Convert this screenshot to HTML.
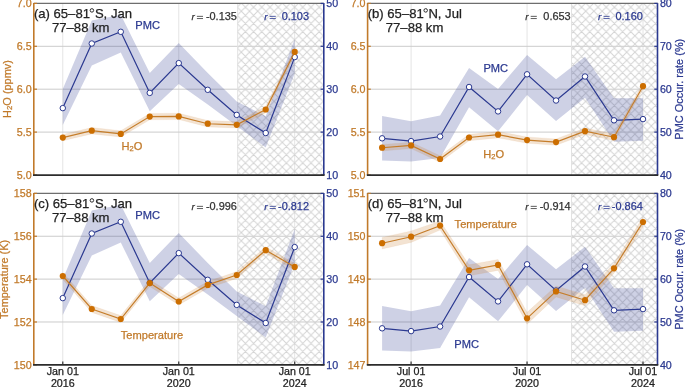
<!DOCTYPE html>
<html><head><meta charset="utf-8"><style>
html,body{margin:0;padding:0;background:#fff;width:685px;height:387px;overflow:hidden}
svg{display:block;will-change:transform}
</style></head><body>
<svg width="685" height="387" viewBox="0 0 685 387">
<defs>
<pattern id="hatch" patternUnits="userSpaceOnUse" x="3.5" y="3.0" width="8.2" height="8.2"><path d="M-8.2,8.2 L8.2,-8.2 M0,16.4 L16.4,0 M-8.2,0 L8.2,16.4 M0,-8.2 L16.4,8.2 M-4.1,-4.1 L12.299999999999999,12.299999999999999 M-4.1,12.299999999999999 L12.299999999999999,-4.1" stroke="#d3d3d3" stroke-width="0.95" fill="none"/></pattern>
</defs>
<rect width="685" height="387" fill="#fff"/>
<clipPath id="clipa"><rect x="33.8" y="3.4" width="290.0" height="171.6"/></clipPath>
<line x1="62.79" y1="3.4" x2="62.79" y2="175.0" stroke="#e4e4e4" stroke-width="1"/>
<line x1="178.75" y1="3.4" x2="178.75" y2="175.0" stroke="#e4e4e4" stroke-width="1"/>
<line x1="294.71" y1="3.4" x2="294.71" y2="175.0" stroke="#e4e4e4" stroke-width="1"/>
<line x1="33.8" y1="46.30" x2="323.8" y2="46.30" stroke="#cbcbcb" stroke-width="1"/>
<line x1="33.8" y1="89.20" x2="323.8" y2="89.20" stroke="#cbcbcb" stroke-width="1"/>
<line x1="33.8" y1="132.10" x2="323.8" y2="132.10" stroke="#cbcbcb" stroke-width="1"/>
<rect x="237.20" y="3.4" width="86.60" height="171.6" fill="url(#hatch)"/>
<line x1="237.70" y1="3.4" x2="237.70" y2="175.0" stroke="#e2e2e2" stroke-width="1"/>
<g clip-path="url(#clipa)">
<polygon points="62.79,89.10 91.78,20.60 120.77,14.80 149.76,73.00 178.75,42.90 207.74,73.00 236.73,101.50 265.72,116.20 294.71,39.00 294.71,73.40 265.72,147.60 236.73,126.00 207.74,104.50 178.75,84.00 149.76,111.20 120.77,52.50 91.78,65.40 62.79,124.90" fill="#2b3990" fill-opacity="0.23"/>
<polygon points="62.79,134.40 91.78,127.50 120.77,130.70 149.76,113.40 178.75,113.20 207.74,120.50 236.73,121.60 265.72,106.30 294.71,48.70 294.71,55.10 265.72,112.70 236.73,128.00 207.74,126.90 178.75,119.60 149.76,119.80 120.77,137.10 91.78,133.90 62.79,140.80" fill="#c57d2a" fill-opacity="0.21" stroke="#c57d2a" stroke-opacity="0.08" stroke-width="0.8"/>
<polyline points="62.79,108.10 91.78,43.50 120.77,31.80 149.76,92.90 178.75,63.10 207.74,89.80 236.73,114.90 265.72,133.00 294.71,57.10" fill="none" stroke="#2b3990" stroke-width="1.2"/>
<circle cx="62.79" cy="108.10" r="2.75" fill="#fff" stroke="#2b3990" stroke-width="1"/>
<circle cx="91.78" cy="43.50" r="2.75" fill="#fff" stroke="#2b3990" stroke-width="1"/>
<circle cx="120.77" cy="31.80" r="2.75" fill="#fff" stroke="#2b3990" stroke-width="1"/>
<circle cx="149.76" cy="92.90" r="2.75" fill="#fff" stroke="#2b3990" stroke-width="1"/>
<circle cx="178.75" cy="63.10" r="2.75" fill="#fff" stroke="#2b3990" stroke-width="1"/>
<circle cx="207.74" cy="89.80" r="2.75" fill="#fff" stroke="#2b3990" stroke-width="1"/>
<circle cx="236.73" cy="114.90" r="2.75" fill="#fff" stroke="#2b3990" stroke-width="1"/>
<circle cx="265.72" cy="133.00" r="2.75" fill="#fff" stroke="#2b3990" stroke-width="1"/>
<circle cx="294.71" cy="57.10" r="2.75" fill="#fff" stroke="#2b3990" stroke-width="1"/>
<polyline points="62.79,137.60 91.78,130.70 120.77,133.90 149.76,116.60 178.75,116.40 207.74,123.70 236.73,124.80 265.72,109.50 294.71,51.90" fill="none" stroke="#c57d2a" stroke-width="1.15"/>
<circle cx="62.79" cy="137.60" r="3.1" fill="#cc6e00"/>
<circle cx="91.78" cy="130.70" r="3.1" fill="#cc6e00"/>
<circle cx="120.77" cy="133.90" r="3.1" fill="#cc6e00"/>
<circle cx="149.76" cy="116.60" r="3.1" fill="#cc6e00"/>
<circle cx="178.75" cy="116.40" r="3.1" fill="#cc6e00"/>
<circle cx="207.74" cy="123.70" r="3.1" fill="#cc6e00"/>
<circle cx="236.73" cy="124.80" r="3.1" fill="#cc6e00"/>
<circle cx="265.72" cy="109.50" r="3.1" fill="#cc6e00"/>
<circle cx="294.71" cy="51.90" r="3.1" fill="#cc6e00"/>
</g>
<line x1="33.8" y1="2.9" x2="33.8" y2="175.0" stroke="#c17a2a" stroke-width="1.6"/>
<line x1="323.8" y1="2.9" x2="323.8" y2="175.0" stroke="#2b3990" stroke-width="1.6"/>
<line x1="33.8" y1="3.4" x2="323.8" y2="3.4" stroke="#6e6e6e" stroke-width="1.1"/>
<line x1="33.8" y1="3.40" x2="37.0" y2="3.40" stroke="#c17a2a" stroke-width="1.2"/>
<line x1="323.8" y1="3.40" x2="320.6" y2="3.40" stroke="#2b3990" stroke-width="1.2"/>
<line x1="33.8" y1="46.30" x2="37.0" y2="46.30" stroke="#c17a2a" stroke-width="1.2"/>
<line x1="323.8" y1="46.30" x2="320.6" y2="46.30" stroke="#2b3990" stroke-width="1.2"/>
<line x1="33.8" y1="89.20" x2="37.0" y2="89.20" stroke="#c17a2a" stroke-width="1.2"/>
<line x1="323.8" y1="89.20" x2="320.6" y2="89.20" stroke="#2b3990" stroke-width="1.2"/>
<line x1="33.8" y1="132.10" x2="37.0" y2="132.10" stroke="#c17a2a" stroke-width="1.2"/>
<line x1="323.8" y1="132.10" x2="320.6" y2="132.10" stroke="#2b3990" stroke-width="1.2"/>
<line x1="33.8" y1="175.00" x2="37.0" y2="175.00" stroke="#c17a2a" stroke-width="1.2"/>
<line x1="323.8" y1="175.00" x2="320.6" y2="175.00" stroke="#2b3990" stroke-width="1.2"/>
<line x1="33.0" y1="175.0" x2="324.6" y2="175.0" stroke="#2c2c2c" stroke-width="1.75"/>
<clipPath id="clipb"><rect x="367.6" y="3.4" width="289.9" height="171.6"/></clipPath>
<line x1="411.09" y1="3.4" x2="411.09" y2="175.0" stroke="#e4e4e4" stroke-width="1"/>
<line x1="527.05" y1="3.4" x2="527.05" y2="175.0" stroke="#e4e4e4" stroke-width="1"/>
<line x1="643.00" y1="3.4" x2="643.00" y2="175.0" stroke="#e4e4e4" stroke-width="1"/>
<line x1="367.6" y1="46.30" x2="657.5" y2="46.30" stroke="#cbcbcb" stroke-width="1"/>
<line x1="367.6" y1="89.20" x2="657.5" y2="89.20" stroke="#cbcbcb" stroke-width="1"/>
<line x1="367.6" y1="132.10" x2="657.5" y2="132.10" stroke="#cbcbcb" stroke-width="1"/>
<rect x="571.00" y="3.4" width="86.50" height="171.6" fill="url(#hatch)"/>
<line x1="571.50" y1="3.4" x2="571.50" y2="175.0" stroke="#e2e2e2" stroke-width="1"/>
<g clip-path="url(#clipb)">
<polygon points="382.10,115.90 411.09,121.30 440.08,115.40 469.06,68.00 498.06,89.00 527.05,55.00 556.04,79.20 585.02,56.80 614.01,98.30 643.00,98.30 643.00,140.80 614.01,141.80 585.02,97.70 556.04,120.90 527.05,95.10 498.06,131.30 469.06,107.20 440.08,158.00 411.09,161.60 382.10,160.60" fill="#2b3990" fill-opacity="0.23"/>
<polygon points="382.10,144.50 411.09,142.20 440.08,155.80 469.06,134.30 498.06,131.50 527.05,136.90 556.04,138.90 585.02,128.00 614.01,134.00 643.00,83.00 643.00,89.40 614.01,140.40 585.02,134.40 556.04,145.30 527.05,143.30 498.06,137.90 469.06,140.70 440.08,162.20 411.09,148.60 382.10,150.90" fill="#c57d2a" fill-opacity="0.21" stroke="#c57d2a" stroke-opacity="0.08" stroke-width="0.8"/>
<polyline points="382.10,138.30 411.09,141.10 440.08,136.50 469.06,87.00 498.06,111.40 527.05,74.30 556.04,100.50 585.02,76.50 614.01,120.30 643.00,119.10" fill="none" stroke="#2b3990" stroke-width="1.2"/>
<circle cx="382.10" cy="138.30" r="2.75" fill="#fff" stroke="#2b3990" stroke-width="1"/>
<circle cx="411.09" cy="141.10" r="2.75" fill="#fff" stroke="#2b3990" stroke-width="1"/>
<circle cx="440.08" cy="136.50" r="2.75" fill="#fff" stroke="#2b3990" stroke-width="1"/>
<circle cx="469.06" cy="87.00" r="2.75" fill="#fff" stroke="#2b3990" stroke-width="1"/>
<circle cx="498.06" cy="111.40" r="2.75" fill="#fff" stroke="#2b3990" stroke-width="1"/>
<circle cx="527.05" cy="74.30" r="2.75" fill="#fff" stroke="#2b3990" stroke-width="1"/>
<circle cx="556.04" cy="100.50" r="2.75" fill="#fff" stroke="#2b3990" stroke-width="1"/>
<circle cx="585.02" cy="76.50" r="2.75" fill="#fff" stroke="#2b3990" stroke-width="1"/>
<circle cx="614.01" cy="120.30" r="2.75" fill="#fff" stroke="#2b3990" stroke-width="1"/>
<circle cx="643.00" cy="119.10" r="2.75" fill="#fff" stroke="#2b3990" stroke-width="1"/>
<polyline points="382.10,147.70 411.09,145.40 440.08,159.00 469.06,137.50 498.06,134.70 527.05,140.10 556.04,142.10 585.02,131.20 614.01,137.20 643.00,86.20" fill="none" stroke="#c57d2a" stroke-width="1.15"/>
<circle cx="382.10" cy="147.70" r="3.1" fill="#cc6e00"/>
<circle cx="411.09" cy="145.40" r="3.1" fill="#cc6e00"/>
<circle cx="440.08" cy="159.00" r="3.1" fill="#cc6e00"/>
<circle cx="469.06" cy="137.50" r="3.1" fill="#cc6e00"/>
<circle cx="498.06" cy="134.70" r="3.1" fill="#cc6e00"/>
<circle cx="527.05" cy="140.10" r="3.1" fill="#cc6e00"/>
<circle cx="556.04" cy="142.10" r="3.1" fill="#cc6e00"/>
<circle cx="585.02" cy="131.20" r="3.1" fill="#cc6e00"/>
<circle cx="614.01" cy="137.20" r="3.1" fill="#cc6e00"/>
<circle cx="643.00" cy="86.20" r="3.1" fill="#cc6e00"/>
</g>
<line x1="367.6" y1="2.9" x2="367.6" y2="175.0" stroke="#c17a2a" stroke-width="1.6"/>
<line x1="657.5" y1="2.9" x2="657.5" y2="175.0" stroke="#2b3990" stroke-width="1.6"/>
<line x1="367.6" y1="3.4" x2="657.5" y2="3.4" stroke="#6e6e6e" stroke-width="1.1"/>
<line x1="367.6" y1="3.40" x2="370.8" y2="3.40" stroke="#c17a2a" stroke-width="1.2"/>
<line x1="657.5" y1="3.40" x2="654.3" y2="3.40" stroke="#2b3990" stroke-width="1.2"/>
<line x1="367.6" y1="46.30" x2="370.8" y2="46.30" stroke="#c17a2a" stroke-width="1.2"/>
<line x1="657.5" y1="46.30" x2="654.3" y2="46.30" stroke="#2b3990" stroke-width="1.2"/>
<line x1="367.6" y1="89.20" x2="370.8" y2="89.20" stroke="#c17a2a" stroke-width="1.2"/>
<line x1="657.5" y1="89.20" x2="654.3" y2="89.20" stroke="#2b3990" stroke-width="1.2"/>
<line x1="367.6" y1="132.10" x2="370.8" y2="132.10" stroke="#c17a2a" stroke-width="1.2"/>
<line x1="657.5" y1="132.10" x2="654.3" y2="132.10" stroke="#2b3990" stroke-width="1.2"/>
<line x1="367.6" y1="175.00" x2="370.8" y2="175.00" stroke="#c17a2a" stroke-width="1.2"/>
<line x1="657.5" y1="175.00" x2="654.3" y2="175.00" stroke="#2b3990" stroke-width="1.2"/>
<line x1="366.8" y1="175.0" x2="658.3" y2="175.0" stroke="#2c2c2c" stroke-width="1.75"/>
<clipPath id="clipc"><rect x="33.8" y="193.4" width="290.0" height="171.45000000000002"/></clipPath>
<line x1="62.79" y1="193.4" x2="62.79" y2="364.85" stroke="#e4e4e4" stroke-width="1"/>
<line x1="178.75" y1="193.4" x2="178.75" y2="364.85" stroke="#e4e4e4" stroke-width="1"/>
<line x1="294.71" y1="193.4" x2="294.71" y2="364.85" stroke="#e4e4e4" stroke-width="1"/>
<line x1="33.8" y1="236.26" x2="323.8" y2="236.26" stroke="#cbcbcb" stroke-width="1"/>
<line x1="33.8" y1="279.12" x2="323.8" y2="279.12" stroke="#cbcbcb" stroke-width="1"/>
<line x1="33.8" y1="321.99" x2="323.8" y2="321.99" stroke="#cbcbcb" stroke-width="1"/>
<rect x="237.20" y="193.4" width="86.60" height="171.45000000000002" fill="url(#hatch)"/>
<line x1="237.70" y1="193.4" x2="237.70" y2="364.85" stroke="#e2e2e2" stroke-width="1"/>
<g clip-path="url(#clipc)">
<polygon points="62.79,279.10 91.78,210.60 120.77,204.80 149.76,263.00 178.75,232.90 207.74,263.00 236.73,291.50 265.72,306.20 294.71,229.00 294.71,263.40 265.72,337.60 236.73,316.00 207.74,294.50 178.75,274.00 149.76,301.20 120.77,242.50 91.78,255.40 62.79,314.90" fill="#2b3990" fill-opacity="0.23"/>
<polygon points="62.79,272.60 91.78,305.60 120.77,315.60 149.76,279.70 178.75,298.10 207.74,281.50 236.73,271.60 265.72,246.80 294.71,263.50 294.71,270.30 265.72,253.60 236.73,278.40 207.74,288.30 178.75,304.90 149.76,286.50 120.77,322.40 91.78,312.40 62.79,279.40" fill="#c57d2a" fill-opacity="0.21" stroke="#c57d2a" stroke-opacity="0.08" stroke-width="0.8"/>
<polyline points="62.79,298.10 91.78,233.50 120.77,221.80 149.76,282.90 178.75,253.10 207.74,279.80 236.73,304.90 265.72,323.00 294.71,247.10" fill="none" stroke="#2b3990" stroke-width="1.2"/>
<circle cx="62.79" cy="298.10" r="2.75" fill="#fff" stroke="#2b3990" stroke-width="1"/>
<circle cx="91.78" cy="233.50" r="2.75" fill="#fff" stroke="#2b3990" stroke-width="1"/>
<circle cx="120.77" cy="221.80" r="2.75" fill="#fff" stroke="#2b3990" stroke-width="1"/>
<circle cx="149.76" cy="282.90" r="2.75" fill="#fff" stroke="#2b3990" stroke-width="1"/>
<circle cx="178.75" cy="253.10" r="2.75" fill="#fff" stroke="#2b3990" stroke-width="1"/>
<circle cx="207.74" cy="279.80" r="2.75" fill="#fff" stroke="#2b3990" stroke-width="1"/>
<circle cx="236.73" cy="304.90" r="2.75" fill="#fff" stroke="#2b3990" stroke-width="1"/>
<circle cx="265.72" cy="323.00" r="2.75" fill="#fff" stroke="#2b3990" stroke-width="1"/>
<circle cx="294.71" cy="247.10" r="2.75" fill="#fff" stroke="#2b3990" stroke-width="1"/>
<polyline points="62.79,276.00 91.78,309.00 120.77,319.00 149.76,283.10 178.75,301.50 207.74,284.90 236.73,275.00 265.72,250.20 294.71,266.90" fill="none" stroke="#c57d2a" stroke-width="1.15"/>
<circle cx="62.79" cy="276.00" r="3.1" fill="#cc6e00"/>
<circle cx="91.78" cy="309.00" r="3.1" fill="#cc6e00"/>
<circle cx="120.77" cy="319.00" r="3.1" fill="#cc6e00"/>
<circle cx="149.76" cy="283.10" r="3.1" fill="#cc6e00"/>
<circle cx="178.75" cy="301.50" r="3.1" fill="#cc6e00"/>
<circle cx="207.74" cy="284.90" r="3.1" fill="#cc6e00"/>
<circle cx="236.73" cy="275.00" r="3.1" fill="#cc6e00"/>
<circle cx="265.72" cy="250.20" r="3.1" fill="#cc6e00"/>
<circle cx="294.71" cy="266.90" r="3.1" fill="#cc6e00"/>
</g>
<line x1="33.8" y1="192.9" x2="33.8" y2="364.85" stroke="#c17a2a" stroke-width="1.6"/>
<line x1="323.8" y1="192.9" x2="323.8" y2="364.85" stroke="#2b3990" stroke-width="1.6"/>
<line x1="33.8" y1="193.4" x2="323.8" y2="193.4" stroke="#6e6e6e" stroke-width="1.1"/>
<line x1="33.8" y1="193.40" x2="37.0" y2="193.40" stroke="#c17a2a" stroke-width="1.2"/>
<line x1="323.8" y1="193.40" x2="320.6" y2="193.40" stroke="#2b3990" stroke-width="1.2"/>
<line x1="33.8" y1="236.26" x2="37.0" y2="236.26" stroke="#c17a2a" stroke-width="1.2"/>
<line x1="323.8" y1="236.26" x2="320.6" y2="236.26" stroke="#2b3990" stroke-width="1.2"/>
<line x1="33.8" y1="279.12" x2="37.0" y2="279.12" stroke="#c17a2a" stroke-width="1.2"/>
<line x1="323.8" y1="279.12" x2="320.6" y2="279.12" stroke="#2b3990" stroke-width="1.2"/>
<line x1="33.8" y1="321.99" x2="37.0" y2="321.99" stroke="#c17a2a" stroke-width="1.2"/>
<line x1="323.8" y1="321.99" x2="320.6" y2="321.99" stroke="#2b3990" stroke-width="1.2"/>
<line x1="33.8" y1="364.85" x2="37.0" y2="364.85" stroke="#c17a2a" stroke-width="1.2"/>
<line x1="323.8" y1="364.85" x2="320.6" y2="364.85" stroke="#2b3990" stroke-width="1.2"/>
<line x1="33.0" y1="364.85" x2="324.6" y2="364.85" stroke="#2c2c2c" stroke-width="1.75"/>
<line x1="62.79" y1="364.85" x2="62.79" y2="361.45000000000005" stroke="#333" stroke-width="1.2"/>
<line x1="178.75" y1="364.85" x2="178.75" y2="361.45000000000005" stroke="#333" stroke-width="1.2"/>
<line x1="294.71" y1="364.85" x2="294.71" y2="361.45000000000005" stroke="#333" stroke-width="1.2"/>
<clipPath id="clipd"><rect x="367.6" y="193.4" width="289.9" height="171.45000000000002"/></clipPath>
<line x1="411.09" y1="193.4" x2="411.09" y2="364.85" stroke="#e4e4e4" stroke-width="1"/>
<line x1="527.05" y1="193.4" x2="527.05" y2="364.85" stroke="#e4e4e4" stroke-width="1"/>
<line x1="643.00" y1="193.4" x2="643.00" y2="364.85" stroke="#e4e4e4" stroke-width="1"/>
<line x1="367.6" y1="236.26" x2="657.5" y2="236.26" stroke="#cbcbcb" stroke-width="1"/>
<line x1="367.6" y1="279.12" x2="657.5" y2="279.12" stroke="#cbcbcb" stroke-width="1"/>
<line x1="367.6" y1="321.99" x2="657.5" y2="321.99" stroke="#cbcbcb" stroke-width="1"/>
<rect x="571.00" y="193.4" width="86.50" height="171.45000000000002" fill="url(#hatch)"/>
<line x1="571.50" y1="193.4" x2="571.50" y2="364.85" stroke="#e2e2e2" stroke-width="1"/>
<g clip-path="url(#clipd)">
<polygon points="382.10,305.90 411.09,311.30 440.08,305.40 469.06,258.00 498.06,279.00 527.05,245.00 556.04,269.20 585.02,246.80 614.01,288.30 643.00,288.30 643.00,330.80 614.01,331.80 585.02,287.70 556.04,310.90 527.05,285.10 498.06,321.30 469.06,297.20 440.08,348.00 411.09,351.60 382.10,350.60" fill="#2b3990" fill-opacity="0.23"/>
<polygon points="382.10,237.40 411.09,230.90 440.08,221.10 469.06,264.80 498.06,259.40 527.05,312.30 556.04,285.90 585.02,294.70 614.01,263.30 643.00,217.00 643.00,227.00 614.01,273.30 585.02,305.70 556.04,296.90 527.05,324.30 498.06,270.40 469.06,275.80 440.08,230.10 411.09,242.50 382.10,249.00" fill="#c57d2a" fill-opacity="0.21" stroke="#c57d2a" stroke-opacity="0.08" stroke-width="0.8"/>
<polyline points="382.10,328.30 411.09,331.10 440.08,326.50 469.06,277.00 498.06,301.40 527.05,264.30 556.04,290.50 585.02,266.50 614.01,310.30 643.00,309.10" fill="none" stroke="#2b3990" stroke-width="1.2"/>
<circle cx="382.10" cy="328.30" r="2.75" fill="#fff" stroke="#2b3990" stroke-width="1"/>
<circle cx="411.09" cy="331.10" r="2.75" fill="#fff" stroke="#2b3990" stroke-width="1"/>
<circle cx="440.08" cy="326.50" r="2.75" fill="#fff" stroke="#2b3990" stroke-width="1"/>
<circle cx="469.06" cy="277.00" r="2.75" fill="#fff" stroke="#2b3990" stroke-width="1"/>
<circle cx="498.06" cy="301.40" r="2.75" fill="#fff" stroke="#2b3990" stroke-width="1"/>
<circle cx="527.05" cy="264.30" r="2.75" fill="#fff" stroke="#2b3990" stroke-width="1"/>
<circle cx="556.04" cy="290.50" r="2.75" fill="#fff" stroke="#2b3990" stroke-width="1"/>
<circle cx="585.02" cy="266.50" r="2.75" fill="#fff" stroke="#2b3990" stroke-width="1"/>
<circle cx="614.01" cy="310.30" r="2.75" fill="#fff" stroke="#2b3990" stroke-width="1"/>
<circle cx="643.00" cy="309.10" r="2.75" fill="#fff" stroke="#2b3990" stroke-width="1"/>
<polyline points="382.10,243.20 411.09,236.70 440.08,225.60 469.06,270.30 498.06,264.90 527.05,318.30 556.04,291.40 585.02,300.20 614.01,268.30 643.00,222.00" fill="none" stroke="#c57d2a" stroke-width="1.15"/>
<circle cx="382.10" cy="243.20" r="3.1" fill="#cc6e00"/>
<circle cx="411.09" cy="236.70" r="3.1" fill="#cc6e00"/>
<circle cx="440.08" cy="225.60" r="3.1" fill="#cc6e00"/>
<circle cx="469.06" cy="270.30" r="3.1" fill="#cc6e00"/>
<circle cx="498.06" cy="264.90" r="3.1" fill="#cc6e00"/>
<circle cx="527.05" cy="318.30" r="3.1" fill="#cc6e00"/>
<circle cx="556.04" cy="291.40" r="3.1" fill="#cc6e00"/>
<circle cx="585.02" cy="300.20" r="3.1" fill="#cc6e00"/>
<circle cx="614.01" cy="268.30" r="3.1" fill="#cc6e00"/>
<circle cx="643.00" cy="222.00" r="3.1" fill="#cc6e00"/>
</g>
<line x1="367.6" y1="192.9" x2="367.6" y2="364.85" stroke="#c17a2a" stroke-width="1.6"/>
<line x1="657.5" y1="192.9" x2="657.5" y2="364.85" stroke="#2b3990" stroke-width="1.6"/>
<line x1="367.6" y1="193.4" x2="657.5" y2="193.4" stroke="#6e6e6e" stroke-width="1.1"/>
<line x1="367.6" y1="193.40" x2="370.8" y2="193.40" stroke="#c17a2a" stroke-width="1.2"/>
<line x1="657.5" y1="193.40" x2="654.3" y2="193.40" stroke="#2b3990" stroke-width="1.2"/>
<line x1="367.6" y1="236.26" x2="370.8" y2="236.26" stroke="#c17a2a" stroke-width="1.2"/>
<line x1="657.5" y1="236.26" x2="654.3" y2="236.26" stroke="#2b3990" stroke-width="1.2"/>
<line x1="367.6" y1="279.12" x2="370.8" y2="279.12" stroke="#c17a2a" stroke-width="1.2"/>
<line x1="657.5" y1="279.12" x2="654.3" y2="279.12" stroke="#2b3990" stroke-width="1.2"/>
<line x1="367.6" y1="321.99" x2="370.8" y2="321.99" stroke="#c17a2a" stroke-width="1.2"/>
<line x1="657.5" y1="321.99" x2="654.3" y2="321.99" stroke="#2b3990" stroke-width="1.2"/>
<line x1="367.6" y1="364.85" x2="370.8" y2="364.85" stroke="#c17a2a" stroke-width="1.2"/>
<line x1="657.5" y1="364.85" x2="654.3" y2="364.85" stroke="#2b3990" stroke-width="1.2"/>
<line x1="366.8" y1="364.85" x2="658.3" y2="364.85" stroke="#2c2c2c" stroke-width="1.75"/>
<line x1="411.09" y1="364.85" x2="411.09" y2="361.45000000000005" stroke="#333" stroke-width="1.2"/>
<line x1="527.05" y1="364.85" x2="527.05" y2="361.45000000000005" stroke="#333" stroke-width="1.2"/>
<line x1="643.00" y1="364.85" x2="643.00" y2="361.45000000000005" stroke="#333" stroke-width="1.2"/>
<text x="31.70" y="7.40" font-family="Liberation Sans, sans-serif" font-size="10.7" fill="#c17a2a" stroke="#c17a2a" stroke-width="0.25" text-anchor="end" >7.0</text>
<text x="326.20" y="7.40" font-family="Liberation Sans, sans-serif" font-size="10.7" fill="#2b3990" stroke="#2b3990" stroke-width="0.25" text-anchor="start" >50</text>
<text x="31.70" y="50.30" font-family="Liberation Sans, sans-serif" font-size="10.7" fill="#c17a2a" stroke="#c17a2a" stroke-width="0.25" text-anchor="end" >6.5</text>
<text x="326.20" y="50.30" font-family="Liberation Sans, sans-serif" font-size="10.7" fill="#2b3990" stroke="#2b3990" stroke-width="0.25" text-anchor="start" >40</text>
<text x="31.70" y="93.20" font-family="Liberation Sans, sans-serif" font-size="10.7" fill="#c17a2a" stroke="#c17a2a" stroke-width="0.25" text-anchor="end" >6.0</text>
<text x="326.20" y="93.20" font-family="Liberation Sans, sans-serif" font-size="10.7" fill="#2b3990" stroke="#2b3990" stroke-width="0.25" text-anchor="start" >30</text>
<text x="31.70" y="136.10" font-family="Liberation Sans, sans-serif" font-size="10.7" fill="#c17a2a" stroke="#c17a2a" stroke-width="0.25" text-anchor="end" >5.5</text>
<text x="326.20" y="136.10" font-family="Liberation Sans, sans-serif" font-size="10.7" fill="#2b3990" stroke="#2b3990" stroke-width="0.25" text-anchor="start" >20</text>
<text x="31.70" y="179.00" font-family="Liberation Sans, sans-serif" font-size="10.7" fill="#c17a2a" stroke="#c17a2a" stroke-width="0.25" text-anchor="end" >5.0</text>
<text x="326.20" y="179.00" font-family="Liberation Sans, sans-serif" font-size="10.7" fill="#2b3990" stroke="#2b3990" stroke-width="0.25" text-anchor="start" >10</text>
<text x="365.50" y="7.40" font-family="Liberation Sans, sans-serif" font-size="10.7" fill="#c17a2a" stroke="#c17a2a" stroke-width="0.25" text-anchor="end" >7.0</text>
<text x="659.90" y="7.40" font-family="Liberation Sans, sans-serif" font-size="10.7" fill="#2b3990" stroke="#2b3990" stroke-width="0.25" text-anchor="start" >80</text>
<text x="365.50" y="50.30" font-family="Liberation Sans, sans-serif" font-size="10.7" fill="#c17a2a" stroke="#c17a2a" stroke-width="0.25" text-anchor="end" >6.5</text>
<text x="659.90" y="50.30" font-family="Liberation Sans, sans-serif" font-size="10.7" fill="#2b3990" stroke="#2b3990" stroke-width="0.25" text-anchor="start" >70</text>
<text x="365.50" y="93.20" font-family="Liberation Sans, sans-serif" font-size="10.7" fill="#c17a2a" stroke="#c17a2a" stroke-width="0.25" text-anchor="end" >6.0</text>
<text x="659.90" y="93.20" font-family="Liberation Sans, sans-serif" font-size="10.7" fill="#2b3990" stroke="#2b3990" stroke-width="0.25" text-anchor="start" >60</text>
<text x="365.50" y="136.10" font-family="Liberation Sans, sans-serif" font-size="10.7" fill="#c17a2a" stroke="#c17a2a" stroke-width="0.25" text-anchor="end" >5.5</text>
<text x="659.90" y="136.10" font-family="Liberation Sans, sans-serif" font-size="10.7" fill="#2b3990" stroke="#2b3990" stroke-width="0.25" text-anchor="start" >50</text>
<text x="365.50" y="179.00" font-family="Liberation Sans, sans-serif" font-size="10.7" fill="#c17a2a" stroke="#c17a2a" stroke-width="0.25" text-anchor="end" >5.0</text>
<text x="659.90" y="179.00" font-family="Liberation Sans, sans-serif" font-size="10.7" fill="#2b3990" stroke="#2b3990" stroke-width="0.25" text-anchor="start" >40</text>
<text x="31.70" y="197.40" font-family="Liberation Sans, sans-serif" font-size="10.7" fill="#c17a2a" stroke="#c17a2a" stroke-width="0.25" text-anchor="end" >158</text>
<text x="326.20" y="197.40" font-family="Liberation Sans, sans-serif" font-size="10.7" fill="#2b3990" stroke="#2b3990" stroke-width="0.25" text-anchor="start" >50</text>
<text x="31.70" y="240.26" font-family="Liberation Sans, sans-serif" font-size="10.7" fill="#c17a2a" stroke="#c17a2a" stroke-width="0.25" text-anchor="end" >156</text>
<text x="326.20" y="240.26" font-family="Liberation Sans, sans-serif" font-size="10.7" fill="#2b3990" stroke="#2b3990" stroke-width="0.25" text-anchor="start" >40</text>
<text x="31.70" y="283.12" font-family="Liberation Sans, sans-serif" font-size="10.7" fill="#c17a2a" stroke="#c17a2a" stroke-width="0.25" text-anchor="end" >154</text>
<text x="326.20" y="283.12" font-family="Liberation Sans, sans-serif" font-size="10.7" fill="#2b3990" stroke="#2b3990" stroke-width="0.25" text-anchor="start" >30</text>
<text x="31.70" y="325.99" font-family="Liberation Sans, sans-serif" font-size="10.7" fill="#c17a2a" stroke="#c17a2a" stroke-width="0.25" text-anchor="end" >152</text>
<text x="326.20" y="325.99" font-family="Liberation Sans, sans-serif" font-size="10.7" fill="#2b3990" stroke="#2b3990" stroke-width="0.25" text-anchor="start" >20</text>
<text x="31.70" y="368.85" font-family="Liberation Sans, sans-serif" font-size="10.7" fill="#c17a2a" stroke="#c17a2a" stroke-width="0.25" text-anchor="end" >150</text>
<text x="326.20" y="368.85" font-family="Liberation Sans, sans-serif" font-size="10.7" fill="#2b3990" stroke="#2b3990" stroke-width="0.25" text-anchor="start" >10</text>
<text x="365.50" y="197.40" font-family="Liberation Sans, sans-serif" font-size="10.7" fill="#c17a2a" stroke="#c17a2a" stroke-width="0.25" text-anchor="end" >151</text>
<text x="659.90" y="197.40" font-family="Liberation Sans, sans-serif" font-size="10.7" fill="#2b3990" stroke="#2b3990" stroke-width="0.25" text-anchor="start" >80</text>
<text x="365.50" y="240.26" font-family="Liberation Sans, sans-serif" font-size="10.7" fill="#c17a2a" stroke="#c17a2a" stroke-width="0.25" text-anchor="end" >150</text>
<text x="659.90" y="240.26" font-family="Liberation Sans, sans-serif" font-size="10.7" fill="#2b3990" stroke="#2b3990" stroke-width="0.25" text-anchor="start" >70</text>
<text x="365.50" y="283.12" font-family="Liberation Sans, sans-serif" font-size="10.7" fill="#c17a2a" stroke="#c17a2a" stroke-width="0.25" text-anchor="end" >149</text>
<text x="659.90" y="283.12" font-family="Liberation Sans, sans-serif" font-size="10.7" fill="#2b3990" stroke="#2b3990" stroke-width="0.25" text-anchor="start" >60</text>
<text x="365.50" y="325.99" font-family="Liberation Sans, sans-serif" font-size="10.7" fill="#c17a2a" stroke="#c17a2a" stroke-width="0.25" text-anchor="end" >148</text>
<text x="659.90" y="325.99" font-family="Liberation Sans, sans-serif" font-size="10.7" fill="#2b3990" stroke="#2b3990" stroke-width="0.25" text-anchor="start" >50</text>
<text x="365.50" y="368.85" font-family="Liberation Sans, sans-serif" font-size="10.7" fill="#c17a2a" stroke="#c17a2a" stroke-width="0.25" text-anchor="end" >147</text>
<text x="659.90" y="368.85" font-family="Liberation Sans, sans-serif" font-size="10.7" fill="#2b3990" stroke="#2b3990" stroke-width="0.25" text-anchor="start" >40</text>
<text x="62.79" y="375.30" font-family="Liberation Sans, sans-serif" font-size="10.7" fill="#222222" stroke="#222222" stroke-width="0.25" text-anchor="middle" >Jan 01</text>
<text x="62.79" y="386.90" font-family="Liberation Sans, sans-serif" font-size="10.7" fill="#222222" stroke="#222222" stroke-width="0.25" text-anchor="middle" >2016</text>
<text x="178.75" y="375.30" font-family="Liberation Sans, sans-serif" font-size="10.7" fill="#222222" stroke="#222222" stroke-width="0.25" text-anchor="middle" >Jan 01</text>
<text x="178.75" y="386.90" font-family="Liberation Sans, sans-serif" font-size="10.7" fill="#222222" stroke="#222222" stroke-width="0.25" text-anchor="middle" >2020</text>
<text x="294.71" y="375.30" font-family="Liberation Sans, sans-serif" font-size="10.7" fill="#222222" stroke="#222222" stroke-width="0.25" text-anchor="middle" >Jan 01</text>
<text x="294.71" y="386.90" font-family="Liberation Sans, sans-serif" font-size="10.7" fill="#222222" stroke="#222222" stroke-width="0.25" text-anchor="middle" >2024</text>
<text x="411.09" y="375.30" font-family="Liberation Sans, sans-serif" font-size="10.7" fill="#222222" stroke="#222222" stroke-width="0.25" text-anchor="middle" >Jul 01</text>
<text x="411.09" y="386.90" font-family="Liberation Sans, sans-serif" font-size="10.7" fill="#222222" stroke="#222222" stroke-width="0.25" text-anchor="middle" >2016</text>
<text x="527.05" y="375.30" font-family="Liberation Sans, sans-serif" font-size="10.7" fill="#222222" stroke="#222222" stroke-width="0.25" text-anchor="middle" >Jul 01</text>
<text x="527.05" y="386.90" font-family="Liberation Sans, sans-serif" font-size="10.7" fill="#222222" stroke="#222222" stroke-width="0.25" text-anchor="middle" >2020</text>
<text x="643.00" y="375.30" font-family="Liberation Sans, sans-serif" font-size="10.7" fill="#222222" stroke="#222222" stroke-width="0.25" text-anchor="middle" >Jul 01</text>
<text x="643.00" y="386.90" font-family="Liberation Sans, sans-serif" font-size="10.7" fill="#222222" stroke="#222222" stroke-width="0.25" text-anchor="middle" >2024</text>
<text transform="translate(11.0,89.0) rotate(-90)" font-family="Liberation Sans, sans-serif" font-size="10.95" stroke-width="0.25" text-anchor="middle" fill="#c17a2a" stroke="#c17a2a">H<tspan font-size="7.8" dy="1.3">2</tspan><tspan dy="-1.3">O (ppmv)</tspan></text>
<text transform="translate(8.0,279.4) rotate(-90)" font-family="Liberation Sans, sans-serif" font-size="10.95" stroke-width="0.25" text-anchor="middle" fill="#c17a2a" stroke="#c17a2a">Temperature (K)</text>
<text transform="translate(682.6,89.2) rotate(-90)" font-family="Liberation Sans, sans-serif" font-size="10.95" stroke-width="0.25" text-anchor="middle" fill="#2b3990" stroke="#2b3990">PMC Occur. rate (%)</text>
<text transform="translate(682.6,279.3) rotate(-90)" font-family="Liberation Sans, sans-serif" font-size="10.95" stroke-width="0.25" text-anchor="middle" fill="#2b3990" stroke="#2b3990">PMC Occur. rate (%)</text>
<text x="33.90" y="18.00" font-family="Liberation Sans, sans-serif" font-size="13.1" fill="#222222" stroke="#222222" stroke-width="0.25" text-anchor="start" >(a) 65–81</text>
<circle cx="91.90" cy="10.40" r="1.75" fill="none" stroke="#222222" stroke-width="0.95"/>
<text x="94.90" y="18.00" font-family="Liberation Sans, sans-serif" font-size="13.1" fill="#222222" stroke="#222222" stroke-width="0.25" text-anchor="start" >S, Jan</text>
<text x="52.00" y="31.90" font-family="Liberation Sans, sans-serif" font-size="13.1" fill="#222222" stroke="#222222" stroke-width="0.25" text-anchor="start" >77–88 km</text>
<text x="367.70" y="18.00" font-family="Liberation Sans, sans-serif" font-size="13.1" fill="#222222" stroke="#222222" stroke-width="0.25" text-anchor="start" >(b) 65–81</text>
<circle cx="425.70" cy="10.40" r="1.75" fill="none" stroke="#222222" stroke-width="0.95"/>
<text x="428.40" y="18.00" font-family="Liberation Sans, sans-serif" font-size="13.1" fill="#222222" stroke="#222222" stroke-width="0.25" text-anchor="start" >N, Jul</text>
<text x="385.80" y="31.90" font-family="Liberation Sans, sans-serif" font-size="13.1" fill="#222222" stroke="#222222" stroke-width="0.25" text-anchor="start" >77–88 km</text>
<text x="33.90" y="208.00" font-family="Liberation Sans, sans-serif" font-size="13.1" fill="#222222" stroke="#222222" stroke-width="0.25" text-anchor="start" >(c) 65–81</text>
<circle cx="91.90" cy="200.40" r="1.75" fill="none" stroke="#222222" stroke-width="0.95"/>
<text x="94.90" y="208.00" font-family="Liberation Sans, sans-serif" font-size="13.1" fill="#222222" stroke="#222222" stroke-width="0.25" text-anchor="start" >S, Jan</text>
<text x="52.00" y="221.90" font-family="Liberation Sans, sans-serif" font-size="13.1" fill="#222222" stroke="#222222" stroke-width="0.25" text-anchor="start" >77–88 km</text>
<text x="367.70" y="208.00" font-family="Liberation Sans, sans-serif" font-size="13.1" fill="#222222" stroke="#222222" stroke-width="0.25" text-anchor="start" >(d) 65–81</text>
<circle cx="425.70" cy="200.40" r="1.75" fill="none" stroke="#222222" stroke-width="0.95"/>
<text x="428.40" y="208.00" font-family="Liberation Sans, sans-serif" font-size="13.1" fill="#222222" stroke="#222222" stroke-width="0.25" text-anchor="start" >N, Jul</text>
<text x="385.80" y="221.90" font-family="Liberation Sans, sans-serif" font-size="13.1" fill="#222222" stroke="#222222" stroke-width="0.25" text-anchor="start" >77–88 km</text>
<text x="191.40" y="19.80" font-family="Liberation Sans, sans-serif" font-size="9.8" fill="#333" stroke="#333" stroke-width="0.25" text-anchor="start" font-style="italic">r</text>
<line x1="196.90" y1="16.35" x2="203.00" y2="16.35" stroke="#333" stroke-width="0.8"/>
<line x1="196.90" y1="18.55" x2="203.00" y2="18.55" stroke="#333" stroke-width="0.8"/>
<text x="236.90" y="19.75" font-family="Liberation Sans, sans-serif" font-size="10.95" fill="#333" stroke="#333" stroke-width="0.25" text-anchor="end" >-0.135</text>
<text x="264.30" y="19.80" font-family="Liberation Sans, sans-serif" font-size="9.8" fill="#2b3990" stroke="#2b3990" stroke-width="0.25" text-anchor="start" font-style="italic">r</text>
<line x1="269.70" y1="16.35" x2="275.80" y2="16.35" stroke="#2b3990" stroke-width="0.8"/>
<line x1="269.70" y1="18.55" x2="275.80" y2="18.55" stroke="#2b3990" stroke-width="0.8"/>
<text x="309.00" y="19.75" font-family="Liberation Sans, sans-serif" font-size="10.95" fill="#2b3990" stroke="#2b3990" stroke-width="0.25" text-anchor="end" >0.103</text>
<text x="525.20" y="19.80" font-family="Liberation Sans, sans-serif" font-size="9.8" fill="#333" stroke="#333" stroke-width="0.25" text-anchor="start" font-style="italic">r</text>
<line x1="530.70" y1="16.35" x2="536.80" y2="16.35" stroke="#333" stroke-width="0.8"/>
<line x1="530.70" y1="18.55" x2="536.80" y2="18.55" stroke="#333" stroke-width="0.8"/>
<text x="570.70" y="19.75" font-family="Liberation Sans, sans-serif" font-size="10.95" fill="#333" stroke="#333" stroke-width="0.25" text-anchor="end" >0.653</text>
<text x="598.10" y="19.80" font-family="Liberation Sans, sans-serif" font-size="9.8" fill="#2b3990" stroke="#2b3990" stroke-width="0.25" text-anchor="start" font-style="italic">r</text>
<line x1="603.50" y1="16.35" x2="609.60" y2="16.35" stroke="#2b3990" stroke-width="0.8"/>
<line x1="603.50" y1="18.55" x2="609.60" y2="18.55" stroke="#2b3990" stroke-width="0.8"/>
<text x="642.80" y="19.75" font-family="Liberation Sans, sans-serif" font-size="10.95" fill="#2b3990" stroke="#2b3990" stroke-width="0.25" text-anchor="end" >0.160</text>
<text x="191.40" y="209.80" font-family="Liberation Sans, sans-serif" font-size="9.8" fill="#333" stroke="#333" stroke-width="0.25" text-anchor="start" font-style="italic">r</text>
<line x1="196.90" y1="206.35" x2="203.00" y2="206.35" stroke="#333" stroke-width="0.8"/>
<line x1="196.90" y1="208.55" x2="203.00" y2="208.55" stroke="#333" stroke-width="0.8"/>
<text x="236.90" y="209.75" font-family="Liberation Sans, sans-serif" font-size="10.95" fill="#333" stroke="#333" stroke-width="0.25" text-anchor="end" >-0.996</text>
<text x="264.30" y="209.80" font-family="Liberation Sans, sans-serif" font-size="9.8" fill="#2b3990" stroke="#2b3990" stroke-width="0.25" text-anchor="start" font-style="italic">r</text>
<line x1="269.70" y1="206.35" x2="275.80" y2="206.35" stroke="#2b3990" stroke-width="0.8"/>
<line x1="269.70" y1="208.55" x2="275.80" y2="208.55" stroke="#2b3990" stroke-width="0.8"/>
<text x="309.00" y="209.75" font-family="Liberation Sans, sans-serif" font-size="10.95" fill="#2b3990" stroke="#2b3990" stroke-width="0.25" text-anchor="end" >-0.812</text>
<text x="525.20" y="209.80" font-family="Liberation Sans, sans-serif" font-size="9.8" fill="#333" stroke="#333" stroke-width="0.25" text-anchor="start" font-style="italic">r</text>
<line x1="530.70" y1="206.35" x2="536.80" y2="206.35" stroke="#333" stroke-width="0.8"/>
<line x1="530.70" y1="208.55" x2="536.80" y2="208.55" stroke="#333" stroke-width="0.8"/>
<text x="570.70" y="209.75" font-family="Liberation Sans, sans-serif" font-size="10.95" fill="#333" stroke="#333" stroke-width="0.25" text-anchor="end" >-0.914</text>
<text x="598.10" y="209.80" font-family="Liberation Sans, sans-serif" font-size="9.8" fill="#2b3990" stroke="#2b3990" stroke-width="0.25" text-anchor="start" font-style="italic">r</text>
<line x1="603.50" y1="206.35" x2="609.60" y2="206.35" stroke="#2b3990" stroke-width="0.8"/>
<line x1="603.50" y1="208.55" x2="609.60" y2="208.55" stroke="#2b3990" stroke-width="0.8"/>
<text x="642.80" y="209.75" font-family="Liberation Sans, sans-serif" font-size="10.95" fill="#2b3990" stroke="#2b3990" stroke-width="0.25" text-anchor="end" >-0.864</text>
<text x="135.30" y="29.20" font-family="Liberation Sans, sans-serif" font-size="11.1" fill="#2b3990" stroke="#2b3990" stroke-width="0.25" text-anchor="start" >PMC</text>
<text x="135.30" y="219.20" font-family="Liberation Sans, sans-serif" font-size="11.1" fill="#2b3990" stroke="#2b3990" stroke-width="0.25" text-anchor="start" >PMC</text>
<text x="483.40" y="71.80" font-family="Liberation Sans, sans-serif" font-size="11.1" fill="#2b3990" stroke="#2b3990" stroke-width="0.25" text-anchor="start" >PMC</text>
<text x="454.30" y="348.10" font-family="Liberation Sans, sans-serif" font-size="11.1" fill="#2b3990" stroke="#2b3990" stroke-width="0.25" text-anchor="start" >PMC</text>
<text x="121.50" y="149.60" font-family="Liberation Sans, sans-serif" font-size="11.1" fill="#c17a2a" stroke="#c17a2a" stroke-width="0.25" text-anchor="start" >H<tspan font-size="7.5" dy="1.6">2</tspan><tspan dy="-1.6">O</tspan></text>
<text x="483.20" y="157.60" font-family="Liberation Sans, sans-serif" font-size="11.1" fill="#c17a2a" stroke="#c17a2a" stroke-width="0.25" text-anchor="start" >H<tspan font-size="7.5" dy="1.6">2</tspan><tspan dy="-1.6">O</tspan></text>
<text x="120.80" y="338.80" font-family="Liberation Sans, sans-serif" font-size="11.1" fill="#c17a2a" stroke="#c17a2a" stroke-width="0.25" text-anchor="start" >Temperature</text>
<text x="454.60" y="227.80" font-family="Liberation Sans, sans-serif" font-size="11.1" fill="#c17a2a" stroke="#c17a2a" stroke-width="0.25" text-anchor="start" >Temperature</text>
</svg>
</body></html>
